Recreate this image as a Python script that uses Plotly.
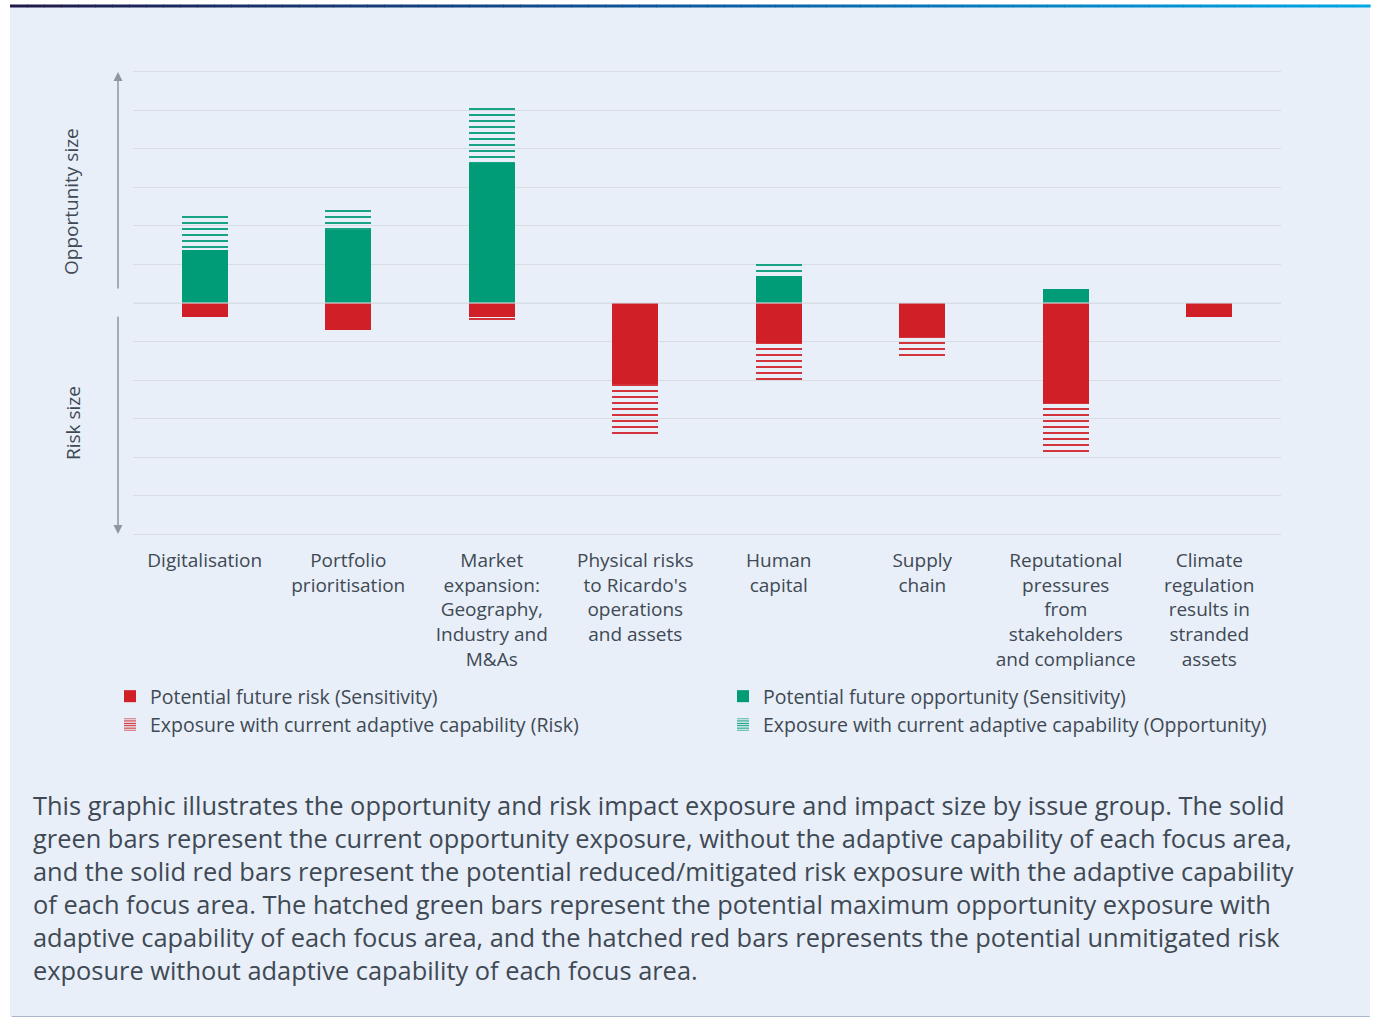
import plotly.graph_objects as go

categories = ["Digitalisation", "Portfolio prioritisation",
              "Market expansion: Geography, Industry and M&As",
              "Physical risks to Ricardo's operations and assets",
              "Human capital", "Supply chain",
              "Reputational pressures from stakeholders and compliance",
              "Climate regulation results in stranded assets"]
tick_labels = ["Digitalisation", "Portfolio<br>prioritisation",
               "Market<br>expansion:<br>Geography,<br>Industry and<br>M&As",
               "Physical risks<br>to Ricardo's<br>operations<br>and assets",
               "Human<br>capital", "Supply<br>chain",
               "Reputational<br>pressures<br>from<br>stakeholders<br>and compliance",
               "Climate<br>regulation<br>results in<br>stranded<br>assets"]
opp_sensitivity = [1.38, 1.90, 3.64, 0, 0.70, 0, 0.36, 0]
opp_adaptive = [0.96, 0.60, 1.45, 0, 0.31, 0, 0, 0]
risk_sensitivity = [0.36, 0.70, 0.36, 2.10, 1.04, 0.88, 2.60, 0.36]
risk_adaptive = [0, 0, 0.11, 1.33, 1.04, 0.57, 1.30, 0]

caption_lines = [
    "This graphic illustrates the opportunity and risk impact exposure and impact size by issue group. The solid",
    "green bars represent the current opportunity exposure, without the adaptive capability of each focus area,",
    "and the solid red bars represent the potential reduced/mitigated risk exposure with the adaptive capability",
    "of each focus area. The hatched green bars represent the potential maximum opportunity exposure with",
    "adaptive capability of each focus area, and the hatched red bars represents the potential unmitigated risk",
    "exposure without adaptive capability of each focus area.",
]

RED = "#d01f26"
GREEN = "#009b77"
FONT = "Open Sans"
TXT = "#3f4954"

W, H = 1378, 1018
L, R, T, B = 133, 1281, 70, 536
pw, ph = R - L, B - T
YR = 6.05


def px_x(px):
    return (px - L) / pw


def px_y(py):
    return (B - py) / ph


x = list(range(len(categories)))
neg_sens = [-v for v in risk_sensitivity]
neg_adap = [-v for v in risk_adaptive]

fig = go.Figure()
bw = 0.32
hatch = dict(shape="-", size=6, solidity=0.3, fillmode="replace")
hatch_leg = dict(shape="-", size=3, solidity=0.45, fillmode="replace")
fig.add_bar(x=x, y=neg_sens, marker_color=RED, width=bw, marker_line_width=0,
            name="Potential future risk (Sensitivity)", legend="legend")
fig.add_bar(x=x, y=opp_sensitivity, marker_color=GREEN, width=bw, marker_line_width=0,
            name="Potential future opportunity (Sensitivity)", legend="legend2")
fig.add_bar(x=x, y=neg_adap, marker=dict(color=RED, line_width=0, pattern=hatch),
            width=bw, showlegend=False)
fig.add_bar(x=x, y=opp_adaptive, marker=dict(color=GREEN, line_width=0, pattern=hatch),
            width=bw, showlegend=False)
# legend-only entries with a finer hatch for the legend icons
fig.add_bar(x=[None], y=[None], marker=dict(color=RED, line_width=0, pattern=hatch_leg),
            name="Exposure with current adaptive capability (Risk)", legend="legend")
fig.add_bar(x=[None], y=[None], marker=dict(color=GREEN, line_width=0, pattern=hatch_leg),
            name="Exposure with current adaptive capability (Opportunity)", legend="legend2")

shapes = []
shapes.append(dict(type="rect", xref="paper", yref="paper", layer="below",
                   x0=px_x(10), x1=px_x(1370), y0=px_y(1017), y1=px_y(6),
                   fillcolor="#e8eff8", line_width=0))
stops = [(0.0, (0x20, 0x1a, 0x4a)), (0.5, (0x0d, 0x5a, 0xa0)), (1.0, (0x00, 0xa8, 0xe6))]


def grad(t):
    for (t0, c0), (t1, c1) in zip(stops[:-1], stops[1:]):
        if t <= t1:
            f = (t - t0) / (t1 - t0)
            return "rgb(%d,%d,%d)" % tuple(int(round(a + (b - a) * f)) for a, b in zip(c0, c1))
    return "rgb(%d,%d,%d)" % stops[-1][1]


nseg = 80
for i in range(nseg):
    a = 10 + (1370 - 10) * i / nseg
    b = 10 + (1370 - 10) * (i + 1) / nseg + 0.6
    shapes.append(dict(type="rect", xref="paper", yref="paper", layer="above",
                       x0=px_x(a), x1=px_x(b), y0=px_y(7.5), y1=px_y(4.5),
                       fillcolor=grad((i + 0.5) / nseg), line_width=0))
shapes.append(dict(type="line", xref="paper", yref="paper", layer="above",
                   x0=px_x(12), x1=px_x(1370), y0=px_y(1016.5), y1=px_y(1016.5),
                   line=dict(color="#a9b6cc", width=1)))
# faint zero gridline drawn over the bars
shapes.append(dict(type="line", xref="paper", yref="y", layer="above",
                   x0=0, x1=1, y0=0, y1=0,
                   line=dict(color="rgba(215,222,230,0.55)", width=2)))

annotations = []
AX = "#8e979d"
annotations.append(dict(xref="paper", yref="y", x=px_x(118), y=6.0, ax=0, axref="pixel",
                        ay=0.34, ayref="y", showarrow=True, arrowhead=2, arrowsize=1.2,
                        arrowwidth=1.5, arrowcolor=AX, text=""))
annotations.append(dict(xref="paper", yref="y", x=px_x(118), y=-6.0, ax=0, axref="pixel",
                        ay=-0.32, ayref="y", showarrow=True, arrowhead=2, arrowsize=1.2,
                        arrowwidth=1.5, arrowcolor=AX, text=""))
annotations.append(dict(xref="paper", yref="paper", x=px_x(71), y=px_y(202), text="Opportunity size",
                        xanchor="center", yanchor="middle",
                        textangle=-90, showarrow=False, font=dict(family=FONT, size=19, color=TXT)))
annotations.append(dict(xref="paper", yref="paper", x=px_x(73), y=px_y(423), text="Risk size",
                        xanchor="center", yanchor="middle",
                        textangle=-90, showarrow=False, font=dict(family=FONT, size=19, color=TXT)))
annotations.append(dict(xref="paper", yref="paper", x=px_x(31), y=px_y(887),
                        xanchor="left", yanchor="middle", align="left", showarrow=False,
                        text="<br>".join(caption_lines),
                        font=dict(family=FONT, size=25.4, color=TXT)))

fig.update_layout(
    width=W, height=H, margin=dict(l=L, r=W - R, t=T, b=H - B),
    paper_bgcolor="white", plot_bgcolor="rgba(0,0,0,0)",
    barmode="relative", bargap=0,
    font=dict(family=FONT, size=19, color=TXT),
    shapes=shapes, annotations=annotations,
    xaxis=dict(range=[-0.5, len(categories) - 0.5], tickmode="array", tickvals=x,
               ticktext=tick_labels, showgrid=False, zeroline=False, showline=False,
               ticks="", ticklabelstandoff=11, tickfont=dict(family=FONT, size=19, color=TXT)),
    yaxis=dict(range=[-YR, YR], dtick=1, showticklabels=False, showgrid=True,
               gridcolor="#d8dde4", gridwidth=1, zeroline=False, showline=False),
    legend=dict(x=px_x(110), y=px_y(677), xanchor="left", yanchor="top",
                bgcolor="rgba(0,0,0,0)", itemwidth=30,
                font=dict(family=FONT, size=19.5, color=TXT)),
    legend2=dict(x=px_x(723), y=px_y(677), xanchor="left", yanchor="top",
                 bgcolor="rgba(0,0,0,0)", itemwidth=30,
                 font=dict(family=FONT, size=19.5, color=TXT)),
)

fig.write_html("out.html", config={"displayModeBar": False},
               post_script="document.body.style.margin='0';")
